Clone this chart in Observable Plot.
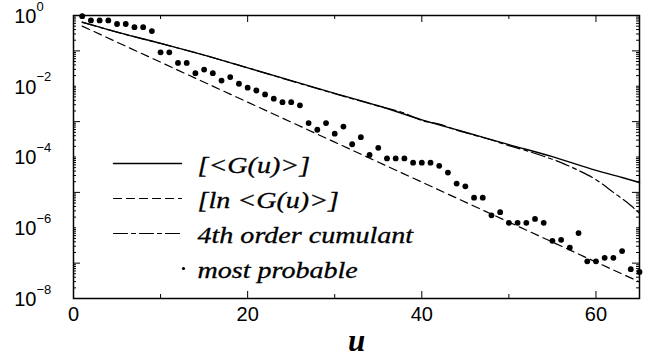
<!DOCTYPE html>
<html><head><meta charset="utf-8">
<script src="https://cdn.jsdelivr.net/npm/d3@7"></script>
<script src="https://cdn.jsdelivr.net/npm/@observablehq/plot@0.6"></script>
<style>body{margin:0;background:#fff}#chart svg{display:block}</style>
</head><body><div id="chart"></div>
<script>
// ---- data (log10 of the plotted values) ----
const dotU = [1,2,3,4,5,6,7,8,9,10,11,12,13,14,15,16,17,18,19,20,21,22,23,24,25,26,27,28,29,30,31,32,33,34,35,36,37,38,39,40,41,42,43,44,45,46,47,48,49,50,51,52,53,54,55,56,57,58,59,60,61,62,63,64,65];
const dotLog = [-0.02,-0.14,-0.14,-0.14,-0.24,-0.24,-0.33,-0.33,-0.44,-1.04,-1.04,-1.34,-1.34,-1.63,-1.53,-1.63,-1.84,-1.74,-1.93,-2.04,-2.12,-2.23,-2.35,-2.45,-2.45,-2.54,-3.04,-3.23,-3.04,-3.34,-3.14,-3.64,-3.44,-3.94,-3.74,-4.04,-4.04,-4.04,-4.16,-4.16,-4.16,-4.25,-4.44,-4.75,-4.83,-5.15,-5.15,-5.65,-5.56,-5.86,-5.86,-5.86,-5.75,-5.86,-6.37,-6.34,-6.56,-6.15,-6.95,-6.95,-6.85,-6.85,-6.66,-7.17,-7.25];
const meanU = [1,3,5,10,15,20,25,30,35,40,45,50,55,60,63,65];
const meanLog = [-0.19,-0.33,-0.47,-0.79,-1.12,-1.48,-1.84,-2.20,-2.55,-2.95,-3.30,-3.65,-3.99,-4.38,-4.58,-4.72];
const lnMeanU = [1,10,20,30,40,50,60,65];
const lnMeanLog = [-0.30,-1.32,-2.45,-3.58,-4.71,-5.84,-6.97,-7.53];
const cumU = [1,5,10,15,20,25,30,35,38,40,42,44,46,48,50,52,54,56,58,60,62,64,65];
const cumLog = [-0.19,-0.47,-0.79,-1.12,-1.48,-1.85,-2.21,-2.56,-2.76,-2.97,-3.07,-3.24,-3.38,-3.52,-3.68,-3.82,-3.98,-4.16,-4.38,-4.64,-5.00,-5.37,-5.59];
const xTickLabels = [0,20,40,60];
const xMinorTicks = [10,30,50];
const yLabelExps = [0,-2,-4,-6,-8];
const yOddExps = [-1,-3,-5,-7];
const decadeExps = [-8,-7,-6,-5,-4,-3,-2,-1];
const mantissas = [2,3,4,5,6,7,8,9];
const legendLabels = ["[<G(u)>]", "[ln <G(u)>]", "4th order cumulant", "most probable"];

// ---- build ----
const toRows = (U, L) => U.map((u, i) => ({u, v: Math.pow(10, L[i])}));
const dots = toRows(dotU, dotLog);
const mean = toRows(meanU, meanLog);
const lnMean = toRows(lnMeanU, lnMeanLog);
const cum = toRows(cumU, cumLog);

const W = 654, H = 358, mL = 73, mR = 15, mT = 15, mB = 60;
const fw = W - mL - mR, fh = H - mT - mB;
const minorY = [];
decadeExps.forEach(e => mantissas.forEach(m => minorY.push(m * Math.pow(10, e))));
yLabelExps.forEach(e => minorY.push(Math.pow(10, e)));
const majorY = yOddExps.map(e => Math.pow(10, e));

const lineShape = {draw(ctx, l) { ctx.moveTo(0, 0); ctx.lineTo(0, -l); }};
const dashes = [null, "8,5", "14,4,4,4"];

const marks = [
  Plot.tickY(minorY, {y: d => d, insetRight: fw - 3, stroke: "black"}),
  Plot.tickY(minorY, {y: d => d, insetLeft: fw - 3, stroke: "black"}),
  Plot.tickY(majorY, {y: d => d, insetRight: fw - 7, stroke: "black"}),
  Plot.tickY(majorY, {y: d => d, insetLeft: fw - 7, stroke: "black"}),
  Plot.tickX(xTickLabels, {x: d => d, insetTop: fh - 7, stroke: "black"}),
  Plot.tickX(xTickLabels, {x: d => d, insetBottom: fh - 7, stroke: "black"}),
  Plot.tickX(xMinorTicks, {x: d => d, insetTop: fh - 4, stroke: "black"}),
  Plot.tickX(xMinorTicks, {x: d => d, insetBottom: fh - 4, stroke: "black"}),
  Plot.frame({stroke: "black", strokeWidth: 1.5}),
  Plot.text(xTickLabels, {x: d => d, text: d => String(d), frameAnchor: "bottom", lineAnchor: "top", dy: 8, fontSize: 20, fill: "black"}),
  Plot.text(yLabelExps, {y: e => Math.pow(10, e), text: () => "10", frameAnchor: "left", textAnchor: "end", lineAnchor: "middle", dx: -37, dy: 1, fontSize: 20, fill: "black"}),
  Plot.text(yLabelExps, {y: e => Math.pow(10, e), text: e => e === 0 ? "0" : "\u2212" + (-e), frameAnchor: "left", textAnchor: "start", lineAnchor: "middle", dx: -37, dy: -9, fontSize: 13, fill: "black"}),
  Plot.text(["u"], {text: d => d, frameAnchor: "bottom", lineAnchor: "middle", dy: 43, fontSize: 31, fontStyle: "italic", fontWeight: "bold", fontFamily: "Liberation Serif", fill: "black"}),
  Plot.line(mean, {x: "u", y: "v", stroke: "black", strokeWidth: 1.4, curve: "monotone-x"}),
  Plot.line(lnMean, {x: "u", y: "v", stroke: "black", strokeWidth: 1.2, strokeDasharray: "8,5"}),
  Plot.line(cum, {x: "u", y: "v", stroke: "black", strokeWidth: 1.2, strokeDasharray: "14,4,4,4", curve: "monotone-x"}),
  Plot.dot(dots, {x: "u", y: "v", r: 2.9, fill: "black", stroke: "none"})
];

legendLabels.forEach((label, i) => {
  const dy = 148 + i * 35;
  if (i < 3) {
    marks.push(Plot.vector([label], {frameAnchor: "top-left", dx: 40, dy, rotate: 90, length: 68, anchor: "start", shape: lineShape, stroke: "black", strokeWidth: i === 0 ? 1.4 : 1.2, strokeDasharray: dashes[i]}));
  } else {
    marks.push(Plot.dot([label], {frameAnchor: "top-left", dx: 110, dy, r: 1.6, fill: "black", stroke: "none"}));
  }
  marks.push(Plot.text([label], {text: d => d, frameAnchor: "top-left", textAnchor: "start", lineAnchor: "middle", dx: 124, dy: dy + 2, fontSize: 23, fontStyle: "italic", fontFamily: "Liberation Serif", fill: "black", stroke: "black", strokeWidth: 0.3}));
});

const chart = Plot.plot({
  width: W, height: H,
  marginLeft: mL, marginRight: mR, marginTop: mT, marginBottom: mB,
  style: {fontFamily: "Liberation Sans, Arial, sans-serif", background: "white", color: "black"},
  x: {domain: [0, 65], axis: null},
  y: {type: "log", domain: [1e-8, 1], axis: null},
  marks
});
document.getElementById("chart").appendChild(chart);
d3.select(chart).selectAll("text")
  .filter(function() { return legendLabels.includes(this.textContent); })
  .each(function() {
    const w = this.getComputedTextLength();
    this.setAttribute("textLength", w * 1.22);
    this.setAttribute("lengthAdjust", "spacingAndGlyphs");
  });
</script></body></html>
